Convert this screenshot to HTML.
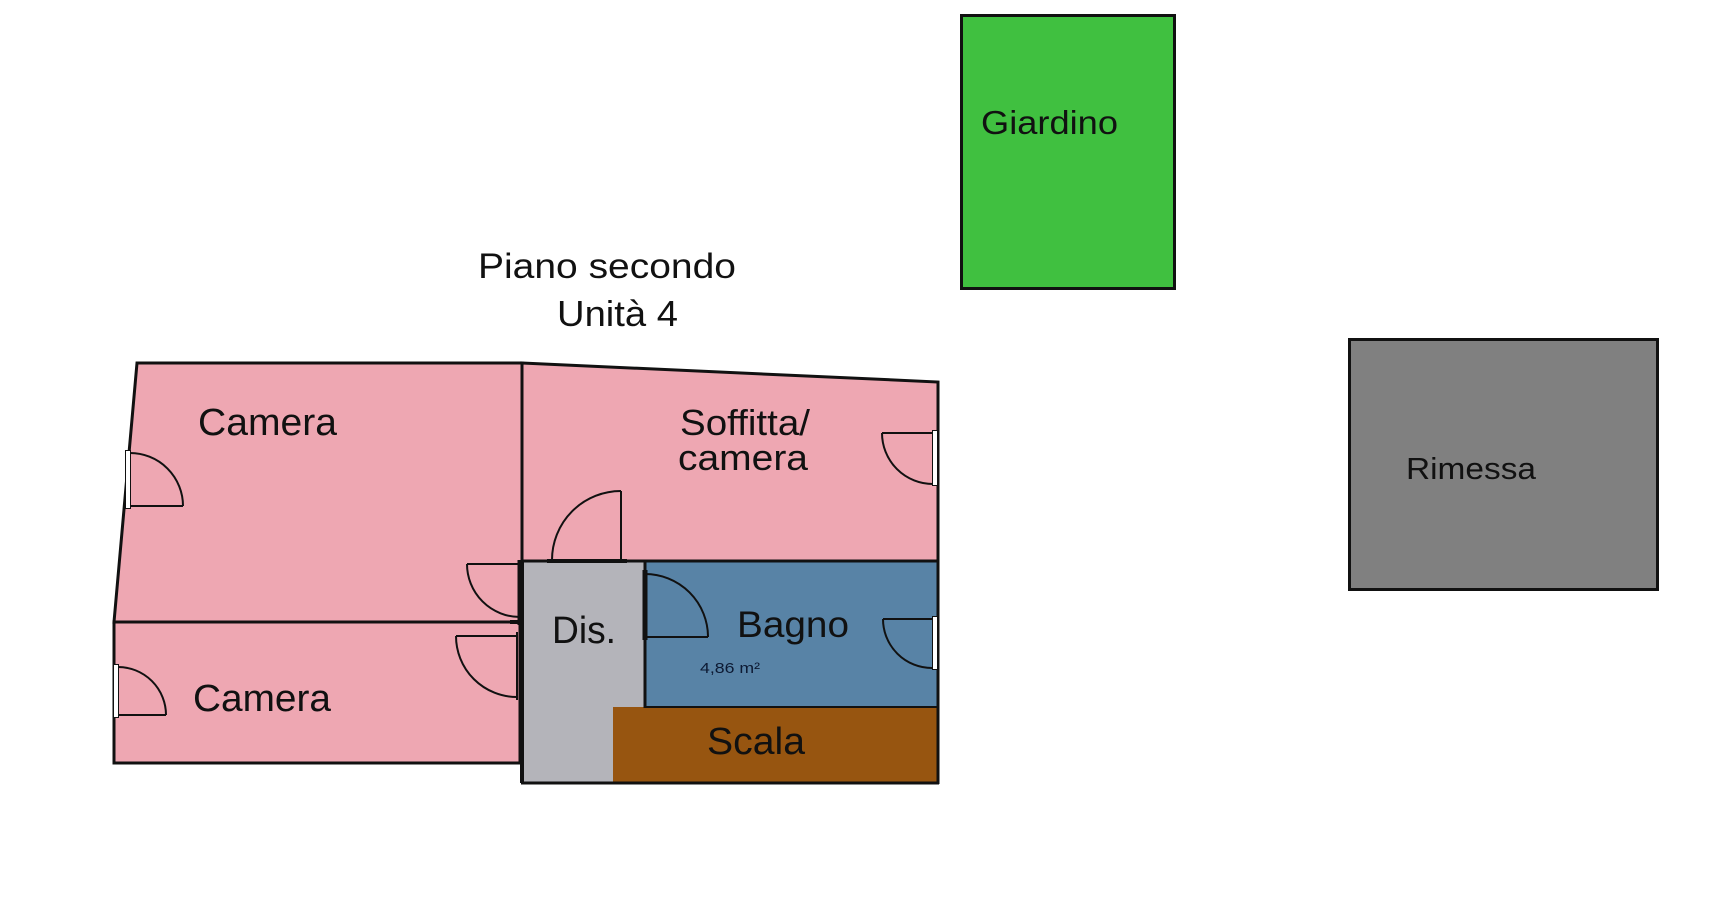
<!DOCTYPE html>
<html>
<head>
<meta charset="utf-8">
<style>
html,body{margin:0;padding:0;background:#fff;}
svg{display:block;}
text{font-family:"Liberation Sans",Arial,sans-serif;fill:#111;}
</style>
</head>
<body>
<svg width="1711" height="916" viewBox="0 0 1711 916" xmlns="http://www.w3.org/2000/svg">
  <rect x="0" y="0" width="1711" height="916" fill="#fff"/>

  <!-- Giardino -->
  <rect x="961.5" y="15.5" width="213" height="273" fill="#40c040" stroke="#111" stroke-width="3"/>
  <text x="981" y="134" font-size="33" textLength="137" lengthAdjust="spacingAndGlyphs">Giardino</text>

  <!-- Rimessa -->
  <rect x="1349.5" y="339.5" width="308" height="250" fill="#808080" stroke="#111" stroke-width="3"/>
  <text x="1406" y="479" font-size="31" textLength="130" lengthAdjust="spacingAndGlyphs">Rimessa</text>

  <!-- Title -->
  <text x="478" y="278" font-size="35" textLength="258" lengthAdjust="spacingAndGlyphs">Piano secondo</text>
  <text x="557" y="326" font-size="36" textLength="121" lengthAdjust="spacingAndGlyphs">Unità 4</text>

  <!-- Rooms fills -->
  <polygon points="137,363 522,363 522,622 114,622" fill="#eea7b2" stroke="#111" stroke-width="3" stroke-linejoin="miter"/>
  <polygon points="114,622 520,622 520,763 114,763" fill="#eea7b2" stroke="#111" stroke-width="3"/>
  <polygon points="522,363 938,382 938,562 522,562" fill="#eea7b2" stroke="#111" stroke-width="3"/>
  <rect x="522" y="562" width="123" height="220" fill="#b4b4ba"/>
  <rect x="645" y="562" width="293" height="145" fill="#5883a6"/>
  <rect x="613" y="707" width="325" height="75" fill="#975510"/>

  <!-- Walls -->
  <line x1="522" y1="561" x2="939" y2="561" stroke="#111" stroke-width="3"/>
  <line x1="522" y1="561" x2="522" y2="783" stroke="#111" stroke-width="4"/>
  <line x1="521" y1="783" x2="939" y2="783" stroke="#111" stroke-width="3"/>
  <line x1="938" y1="381" x2="938" y2="784" stroke="#111" stroke-width="3"/>
  <line x1="645" y1="561" x2="645" y2="708" stroke="#111" stroke-width="3"/>
  <line x1="645" y1="570" x2="645" y2="640" stroke="#111" stroke-width="5"/>
  <line x1="645" y1="707" x2="939" y2="707" stroke="#111" stroke-width="2"/>
  <line x1="520" y1="560" x2="520" y2="625" stroke="#111" stroke-width="5"/>
  <line x1="510" y1="622" x2="523" y2="622" stroke="#111" stroke-width="4"/>

  <!-- Doors -->
  <g fill="none" stroke="#111" stroke-width="2">
    <line x1="130" y1="506" x2="183" y2="506"/>
    <path d="M130,453 A53,53 0 0 1 183,506"/>
    <line x1="467" y1="564" x2="520" y2="564"/>
    <path d="M467,564 A53,53 0 0 0 520,617"/>
    <line x1="882" y1="433" x2="933" y2="433"/>
    <path d="M882,433 A51,51 0 0 0 933,484"/>
    <line x1="621" y1="491" x2="621" y2="560"/>
    <path d="M621,491 A69,69 0 0 0 552,560"/>
    <line x1="118" y1="715" x2="166" y2="715"/>
    <path d="M118,667 A48,48 0 0 1 166,715"/>
    <line x1="456" y1="636" x2="517" y2="636"/>
    <path d="M456,636 A61,61 0 0 0 517,697"/>
    <line x1="517" y1="632" x2="517" y2="700"/>
    <line x1="645" y1="637" x2="708" y2="637"/>
    <path d="M645,574 A63,63 0 0 1 708,637"/>
    <line x1="883" y1="619" x2="932" y2="619"/>
    <path d="M883,619 A49,49 0 0 0 932,668"/>
  </g>
  <line x1="547" y1="561" x2="627" y2="561" stroke="#111" stroke-width="4"/>

  <!-- Windows -->
  <g fill="#fff" stroke="#111" stroke-width="1">
    <rect x="125.5" y="450.5" width="5" height="58"/>
    <rect x="932.5" y="430.5" width="5" height="55"/>
    <rect x="113.5" y="664.5" width="5" height="53"/>
    <rect x="932.5" y="616.5" width="5" height="53"/>
  </g>

  <!-- Labels -->
  <text x="198" y="435" font-size="38" textLength="139" lengthAdjust="spacingAndGlyphs">Camera</text>
  <text x="680" y="435" font-size="36" textLength="130" lengthAdjust="spacingAndGlyphs">Soffitta/</text>
  <text x="678" y="470" font-size="36" textLength="130" lengthAdjust="spacingAndGlyphs">camera</text>
  <text x="552" y="643" font-size="38" textLength="64" lengthAdjust="spacingAndGlyphs">Dis.</text>
  <text x="737" y="637" font-size="37" textLength="112" lengthAdjust="spacingAndGlyphs">Bagno</text>
  <text x="700" y="673" font-size="15" textLength="60" lengthAdjust="spacingAndGlyphs" style="fill:#0d1a33">4,86 m²</text>
  <text x="193" y="711" font-size="38" textLength="138" lengthAdjust="spacingAndGlyphs">Camera</text>
  <text x="707" y="754" font-size="38" textLength="98" lengthAdjust="spacingAndGlyphs">Scala</text>
</svg>
</body>
</html>
